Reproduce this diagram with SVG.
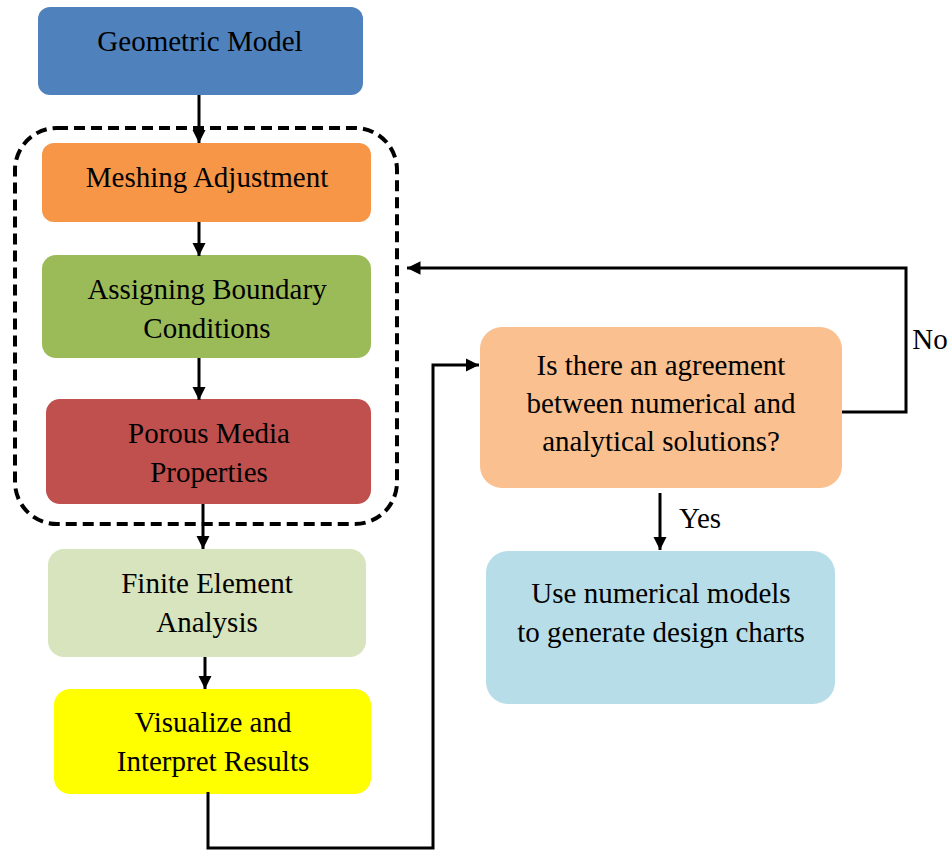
<svg xmlns="http://www.w3.org/2000/svg" width="950" height="850" viewBox="0 0 950 850">
<style>
text{font-family:"Liberation Serif","Times New Roman",serif;font-size:29px;fill:#000;text-anchor:middle}
.c{fill:none;stroke:#000;stroke-width:3}
</style>
<defs>
<marker id="ah" viewBox="0 0 10 10" refX="10" refY="5" markerWidth="4.5" markerHeight="4.5" markerUnits="strokeWidth" orient="auto"><path d="M0,0 L10,5 L0,10 z" fill="#000"/></marker>
</defs>
<rect x="0" y="0" width="950" height="850" fill="#fff"/>
<g id="group-box"><rect x="15" y="128" width="382" height="396" rx="42" fill="none" stroke="#000" stroke-width="4" stroke-dasharray="11,6"/></g>
<g id="geometric"><rect x="38" y="7" width="325" height="88" rx="12" fill="#4F81BD"/><text x="200" y="51">Geometric Model</text></g>
<g id="meshing"><rect x="42" y="143" width="329" height="79" rx="12" fill="#F79646"/><text x="207" y="187">Meshing Adjustment</text></g>
<g id="boundary"><rect x="42" y="255" width="329" height="103" rx="14" fill="#9BBB59"/><text x="207" y="299">Assigning Boundary</text><text x="207" y="338">Conditions</text></g>
<g id="porous"><rect x="46" y="399" width="325" height="105" rx="14" fill="#C0504D"/><text x="209" y="443">Porous Media</text><text x="209" y="482">Properties</text></g>
<g id="fea"><rect x="48" y="549" width="318" height="108" rx="16" fill="#D7E4BD"/><text x="207" y="593">Finite Element</text><text x="207" y="632">Analysis</text></g>
<g id="visualize"><rect x="54" y="689" width="317" height="105" rx="16" fill="#FFFF00"/><text x="213" y="732">Visualize and</text><text x="213" y="771">Interpret Results</text></g>
<g id="decision"><rect x="480" y="327" width="362" height="161" rx="22" fill="#FAC090"/><text x="661" y="375">Is there an agreement</text><text x="661" y="413">between numerical and</text><text x="661" y="451">analytical solutions?</text></g>
<g id="use"><rect x="486" y="551" width="349" height="153" rx="22" fill="#B7DEE8"/><text x="661" y="603">Use numerical models</text><text x="661" y="642">to generate design charts</text></g>
<g id="connectors">
<line class="c" x1="199" y1="95" x2="199" y2="143" marker-end="url(#ah)"/>
<line class="c" x1="199" y1="222" x2="199" y2="256" marker-end="url(#ah)"/>
<line class="c" x1="199" y1="358" x2="199" y2="400" marker-end="url(#ah)"/>
<line class="c" x1="203" y1="504" x2="203" y2="549" marker-end="url(#ah)"/>
<line class="c" x1="205" y1="657" x2="205" y2="689" marker-end="url(#ah)"/>
<polyline class="c" points="208,792 208,848 433,848 433,365 479,365" marker-end="url(#ah)"/>
<polyline class="c" points="842,412 906,412 906,268 407,268" marker-end="url(#ah)"/>
<line class="c" x1="660" y1="493" x2="660" y2="550" marker-end="url(#ah)"/>
<text x="930" y="349">No</text>
<text x="700" y="528">Yes</text>
</g>
</svg>
